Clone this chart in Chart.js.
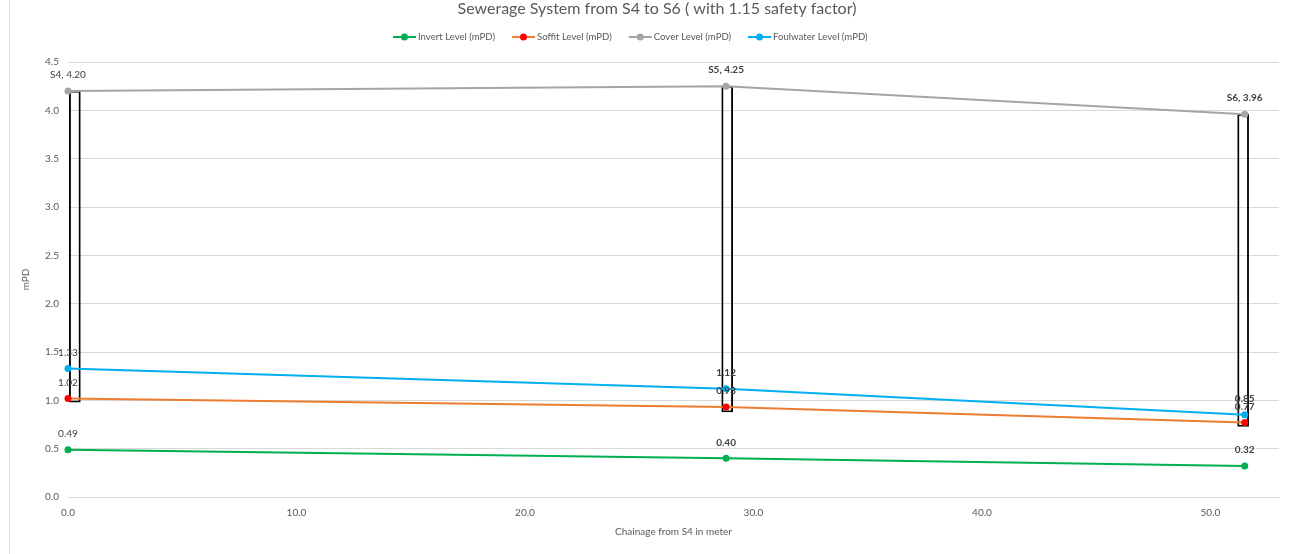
<!DOCTYPE html>
<html>
<head>
<meta charset="utf-8">
<script src="https://cdn.jsdelivr.net/npm/chart.js@4.4.1/dist/chart.umd.min.js"></script>
<style>
    html, body { margin: 0; padding: 0; background: #fff; }
    #wrap { position: relative; width: 1303px; height: 554px; }
    #edge { position: absolute; left: 9px; top: 0; width: 1px; height: 554px; background: #d9d9d9; }
</style>
</head>
<body>
<div id="wrap">
    <div id="edge"></div>
    <canvas id="chart" width="1303" height="554"></canvas>
</div>
<script>
// chart data
const stations = ['S4', 'S5', 'S6'];
const chainage = [0.0, 28.8, 51.5];
const invertLevel = [0.49, 0.40, 0.32];
const soffitLevel = [1.02, 0.93, 0.77];
const coverLevel = [4.20, 4.25, 3.96];
const foulwaterLevel = [1.33, 1.12, 0.85];
// manhole boxes (centre chainage, bottom level, top = cover level)
const boxChainage = [0.3, 28.85, 51.43];
const boxBottom = [0.98, 0.88, 0.73];

const FONT = 'Lato, "Open Sans", sans-serif';
const TEXT = '#595959';

const series = [
    { label: 'Invert Level (mPD)', values: invertLevel, line: '#00b050', dot: '#00b050' },
    { label: 'Soffit Level (mPD)', values: soffitLevel, line: '#ed7d31', dot: '#ff0000' },
    { label: 'Cover Level (mPD)', values: coverLevel, line: '#a5a5a5', dot: '#a5a5a5', named: true },
    { label: 'Foulwater Level (mPD)', values: foulwaterLevel, line: '#00b0f0', dot: '#00b0f0' }
];

const lineSets = series.map(s => ({
    type: 'line',
    label: s.label,
    data: s.values.map((v, i) => ({ x: chainage[i], y: v })),
    borderColor: s.line,
    backgroundColor: s.dot,
    pointBackgroundColor: s.dot,
    pointBorderColor: s.dot,
    pointRadius: 3.5,
    pointBorderWidth: 0,
    borderWidth: 2,
    tension: 0,
    clip: false,
    order: 1
}));

const boxSet = {
    type: 'bar',
    label: 'Manhole',
    data: boxChainage.map((c, i) => ({ x: c, y: [boxBottom[i], coverLevel[i]] })),
    backgroundColor: 'rgba(0,0,0,0)',
    borderColor: '#000',
    borderWidth: 1.2,
    borderSkipped: false,
    barThickness: 11,
    order: 2
};

// value labels above each point + legend + title
const decorPlugin = {
    id: 'decor',
    afterDatasetsDraw(chart) {
        const ctx = chart.ctx;
        ctx.save();
        ctx.textAlign = 'center';
        ctx.textBaseline = 'middle';
        ctx.fillStyle = '#404040';
        series.forEach((s, si) => {
            const meta = chart.getDatasetMeta(si);
            meta.data.forEach((pt, i) => {
                ctx.font = (i > 0 ? 'bold ' : '') + '10px ' + FONT;
                const txt = (s.named ? stations[i] + ', ' : '') + s.values[i].toFixed(2);
                ctx.fillText(txt, pt.x, pt.y - 16);
            });
        });
        ctx.restore();
    },
    afterDraw(chart) {
        const ctx = chart.ctx;
        ctx.save();
        ctx.textBaseline = 'middle';
        ctx.fillStyle = TEXT;
        ctx.textAlign = 'center';
        ctx.font = '16px ' + FONT;
        ctx.fillText('Sewerage System from S4 to S6 ( with 1.15 safety factor)', 657, 9);

        ctx.font = '9.6px ' + FONT;
        ctx.textAlign = 'left';
        let x = 393;
        const y = 37;
        series.forEach(s => {
            ctx.strokeStyle = s.line;
            ctx.lineWidth = 2;
            ctx.beginPath();
            ctx.moveTo(x, y);
            ctx.lineTo(x + 23, y);
            ctx.stroke();
            ctx.fillStyle = s.dot;
            ctx.beginPath();
            ctx.arc(x + 11.5, y, 3.5, 0, Math.PI * 2);
            ctx.fill();
            ctx.fillStyle = TEXT;
            ctx.fillText(s.label, x + 25, y);
            x += 25 + ctx.measureText(s.label).width + 17;
        });
        ctx.restore();
    }
};

new Chart(document.getElementById('chart'), {
    data: { datasets: [...lineSets, boxSet] },
    options: {
        responsive: false,
        animation: false,
        layout: { padding: { top: 62, left: 20, right: 24, bottom: 10 } },
        plugins: {
            legend: { display: false },
            tooltip: { enabled: false }
        },
        scales: {
            x: {
                type: 'linear',
                min: 0,
                max: 53,
                offset: false,
                afterBuildTicks: scale => { scale.ticks = scale.ticks.filter(t => t.value % 10 === 0); },
                afterFit: scale => { scale.height = 47; },
                grid: { display: false, drawTicks: false, offset: false },
                border: { color: '#d9d9d9', width: 1 },
                ticks: {
                    stepSize: 10,
                    padding: 10,
                    maxRotation: 0,
                    color: TEXT,
                    font: { family: FONT, size: 10 },
                    callback: v => Number(v).toFixed(1)
                },
                title: {
                    display: true,
                    text: 'Chainage from S4 in meter',
                    color: TEXT,
                    font: { family: FONT, size: 10 },
                    padding: { top: 0, bottom: 6 }
                }
            },
            y: {
                min: 0,
                max: 4.5,
                afterFit: scale => { scale.width = 48; },
                grid: { color: '#d9d9d9', drawTicks: false },
                border: { display: false },
                ticks: {
                    stepSize: 0.5,
                    padding: 9,
                    color: TEXT,
                    font: { family: FONT, size: 10 },
                    callback: v => Number(v).toFixed(1)
                },
                title: {
                    display: true,
                    text: 'mPD',
                    color: TEXT,
                    font: { family: FONT, size: 10 },
                    padding: { top: 0, bottom: 4 }
                }
            }
        }
    },
    plugins: [decorPlugin]
});
</script>
</body>
</html>
